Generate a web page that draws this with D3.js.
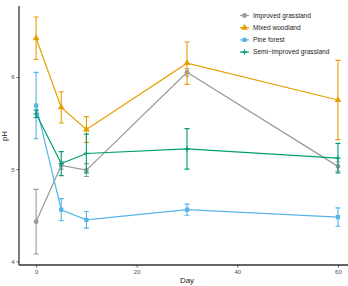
<!DOCTYPE html>
<html><head><meta charset="utf-8">
<script src="https://cdn.jsdelivr.net/npm/d3@7"></script>
<style>body{margin:0;background:#fff}svg{display:block;font-family:"Liberation Sans",Arial,sans-serif}</style>
</head><body><svg id="c" width="348" height="286"></svg>
<script>
const days = [0, 5, 10, 30, 60];
const seriesNames = ["Improved grassland", "Mixed woodland", "Pine forest", "Semi\u2212improved grassland"];
const improvedMean = [4.43, 5.04, 4.99, 6.05, 5.03];
const improvedErr  = [0.35, 0.04, 0.07, 0.04, 0.05];
const mixedMean    = [6.42, 5.67, 5.43, 6.15, 5.75];
const mixedErr     = [0.23, 0.17, 0.14, 0.23, 0.43];
const pineMean     = [5.69, 4.56, 4.45, 4.56, 4.48];
const pineErr      = [0.36, 0.12, 0.09, 0.06, 0.10];
const semiMean     = [5.60, 5.06, 5.17, 5.22, 5.12];
const semiErr      = [0.04, 0.13, 0.21, 0.22, 0.16];
const xTicks = [0, 20, 40, 60];
const yTicks = [4, 5, 6];
const colors = ["#999999", "#E69F00", "#56B4E9", "#009E73"];
const shapes = [d3.symbolCircle, d3.symbolTriangle, d3.symbolSquare, "plus"];

const series = [
  {name: seriesNames[0], mean: improvedMean, err: improvedErr},
  {name: seriesNames[1], mean: mixedMean, err: mixedErr},
  {name: seriesNames[2], mean: pineMean, err: pineErr},
  {name: seriesNames[3], mean: semiMean, err: semiErr}
];

const svg = d3.select("#c");
const x = d3.scaleLinear().domain([-3.4, 62]).range([19, 348]);
const y = d3.scaleLinear().domain([3.96, 6.77]).range([265, 6]);

// axes
const xAxis = svg.append("g").attr("transform", "translate(0,265)")
  .call(d3.axisBottom(x).tickValues(xTicks).tickFormat(d3.format("d")).tickSize(2.5).tickPadding(2));
const yAxis = svg.append("g").attr("transform", "translate(19,0)")
  .call(d3.axisLeft(y).tickValues(yTicks).tickFormat(d3.format("d")).tickSize(2.5).tickPadding(2));
[xAxis, yAxis].forEach(a => {
  a.select(".domain").attr("stroke", "#333").attr("stroke-width", 1.3);
  a.selectAll(".tick line").attr("stroke", "#333").attr("stroke-width", 0.8);
  a.selectAll(".tick text").attr("fill", "#4d4d4d").attr("font-size", 6);
});
xAxis.select(".domain").attr("d", "M19,0H348");
yAxis.select(".domain").attr("d", "M0,6V265");

svg.append("text").attr("x", 187).attr("y", 283).attr("text-anchor", "middle")
  .attr("font-size", 8).attr("fill", "#222").text("Day");
svg.append("text").attr("transform", "translate(7,136) rotate(-90)").attr("text-anchor", "middle")
  .attr("font-size", 8).attr("fill", "#222").text("pH");

const line = d3.line().x((d, i) => x(days[i])).y(d => y(d));

function drawSym(g, k, cx, cy) {
  if (shapes[k] === "plus") {
    g.append("path").attr("d", `M${cx-2.6},${cy}H${cx+2.6}M${cx},${cy-2.6}V${cy+2.6}`)
      .attr("stroke", colors[k]).attr("stroke-width", 1.2).attr("fill", "none");
  } else {
    g.append("path").attr("d", d3.symbol().type(shapes[k]).size(shapes[k] === d3.symbolTriangle ? 20 : 18)())
      .attr("transform", `translate(${cx},${cy})`).attr("fill", colors[k]);
  }
}

series.forEach((s, k) => {
  const g = svg.append("g");
  g.append("path").attr("d", line(s.mean)).attr("fill", "none")
    .attr("stroke", colors[k]).attr("stroke-width", 1.2);
  s.mean.forEach((m, i) => {
    const cx = x(days[i]), y1 = y(m + s.err[i]), y2 = y(m - s.err[i]);
    g.append("path").attr("d", `M${cx},${y1}V${y2}M${cx-2.5},${y1}H${cx+2.5}M${cx-2.5},${y2}H${cx+2.5}`)
      .attr("stroke", colors[k]).attr("stroke-width", 1.1).attr("fill", "none");
    drawSym(g, k, cx, y(m));
  });
});

// legend
const lg = svg.append("g");
series.forEach((s, k) => {
  const ly = 15.5 + k * 12.2;
  lg.append("line").attr("x1", 240).attr("x2", 249).attr("y1", ly).attr("y2", ly)
    .attr("stroke", colors[k]).attr("stroke-width", 1.2);
  drawSym(lg, k, 244.5, ly);
  lg.append("text").attr("x", 253).attr("y", ly + 2.3).attr("font-size", 6.6)
    .attr("fill", "#222").text(s.name);
});
</script></body></html>
